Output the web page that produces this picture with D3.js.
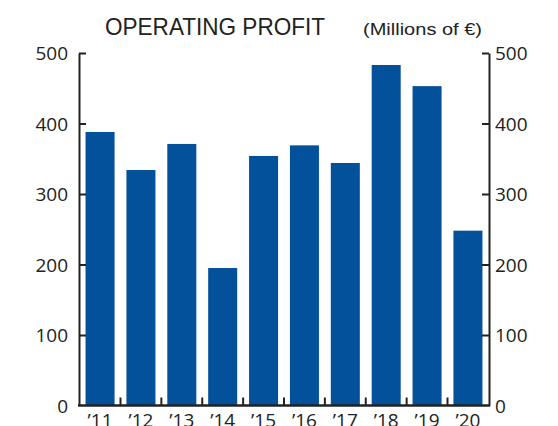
<html>
<head>
<script src="https://d3js.org/d3.v7.min.js"></script>
<style>
  body { margin: 0; background: #fff; }
  text { font-family: "Open Sans", "DejaVu Sans", sans-serif; fill: #222; }
</style>
</head>
<body>
<svg id="chart" width="558" height="426"></svg>
<script>
// data
const years = ["’11", "’12", "’13", "’14", "’15", "’16", "’17", "’18", "’19", "’20"];
const profit = [388, 334, 371, 195, 354, 369, 344, 483, 453, 248];
const yTicks = [0, 100, 200, 300, 400, 500];

const svg = d3.select("#chart");
const plotLeft = 79, plotRight = 489, plotTop = 53, plotBottom = 405.5;

const x = d3.scaleBand().domain(years).range([plotLeft, plotRight]).paddingInner(0.29).paddingOuter(0.16);
const y = d3.scaleLinear().domain([0, 500]).range([plotBottom, plotTop]);

// bars
svg.selectAll("rect.bar").data(profit)
  .join("rect")
  .attr("class", "bar")
  .attr("x", (d, i) => x(years[i]))
  .attr("width", x.bandwidth())
  .attr("y", d => y(d))
  .attr("height", d => y(0) - y(d))
  .attr("fill", "#03519b");

// side axes - ticks pointing inward
const yl = svg.append("g").attr("transform", "translate(" + plotLeft + ",0)")
  .call(d3.axisRight(y).tickValues(yTicks).tickSize(7).tickSizeOuter(0).tickFormat(""));
const yr = svg.append("g").attr("transform", "translate(" + plotRight + ",0)")
  .call(d3.axisLeft(y).tickValues(yTicks).tickSize(7).tickSizeOuter(0).tickFormat(""));
[yl, yr].forEach(g => {
  g.select(".domain").attr("stroke", "#222").attr("stroke-width", 2);
  g.selectAll(".tick line").attr("stroke", "#222").attr("stroke-width", 2);
  g.selectAll(".tick").filter(d => d === 0).remove();
});

// tick labels
svg.selectAll("text.yl").data(yTicks).join("text")
  .attr("class", "yl")
  .attr("x", 68).attr("y", d => y(d) + 7)
  .attr("text-anchor", "end")
  .style("font-size", "19px")
  .text(d => d);
svg.selectAll("text.yr").data(yTicks).join("text")
  .attr("class", "yr")
  .attr("x", 495).attr("y", d => y(d) + 7)
  .attr("text-anchor", "start")
  .style("font-size", "19px")
  .text(d => d);

// bottom baseline with ticks between bars
const step = x.step();
const bounds = years.slice(1).map(yv => x(yv) - step * x.paddingInner() / 2);
svg.selectAll("line.xt").data(bounds).join("line")
  .attr("class", "xt")
  .attr("x1", d => d).attr("x2", d => d)
  .attr("y1", plotBottom).attr("y2", plotBottom - 8)
  .attr("stroke", "#222").attr("stroke-width", 2);
svg.append("line")
  .attr("x1", plotLeft - 1).attr("x2", plotRight + 1)
  .attr("y1", plotBottom).attr("y2", plotBottom)
  .attr("stroke", "#222").attr("stroke-width", 2.5);

// year labels sit at the bottom edge, as in the original
svg.selectAll("text.xl").data(years).join("text")
  .attr("class", "xl")
  .attr("x", d => x(d) + x.bandwidth() / 2)
  .attr("y", 427)
  .attr("text-anchor", "middle")
  .style("font-size", "19px")
  .text(d => d);

// title
svg.append("text")
  .attr("x", 105).attr("y", 35)
  .style("font-family", "'Liberation Sans', Arial, sans-serif")
  .style("font-size", "24px")
  .attr("textLength", 220).attr("lengthAdjust", "spacingAndGlyphs")
  .text("OPERATING PROFIT");
svg.append("text")
  .attr("x", 363).attr("y", 35)
  .style("font-family", "'Liberation Sans', Arial, sans-serif")
  .style("font-size", "17px")
  .attr("textLength", 119).attr("lengthAdjust", "spacingAndGlyphs")
  .text("(Millions of €)");
</script>
</body>
</html>
